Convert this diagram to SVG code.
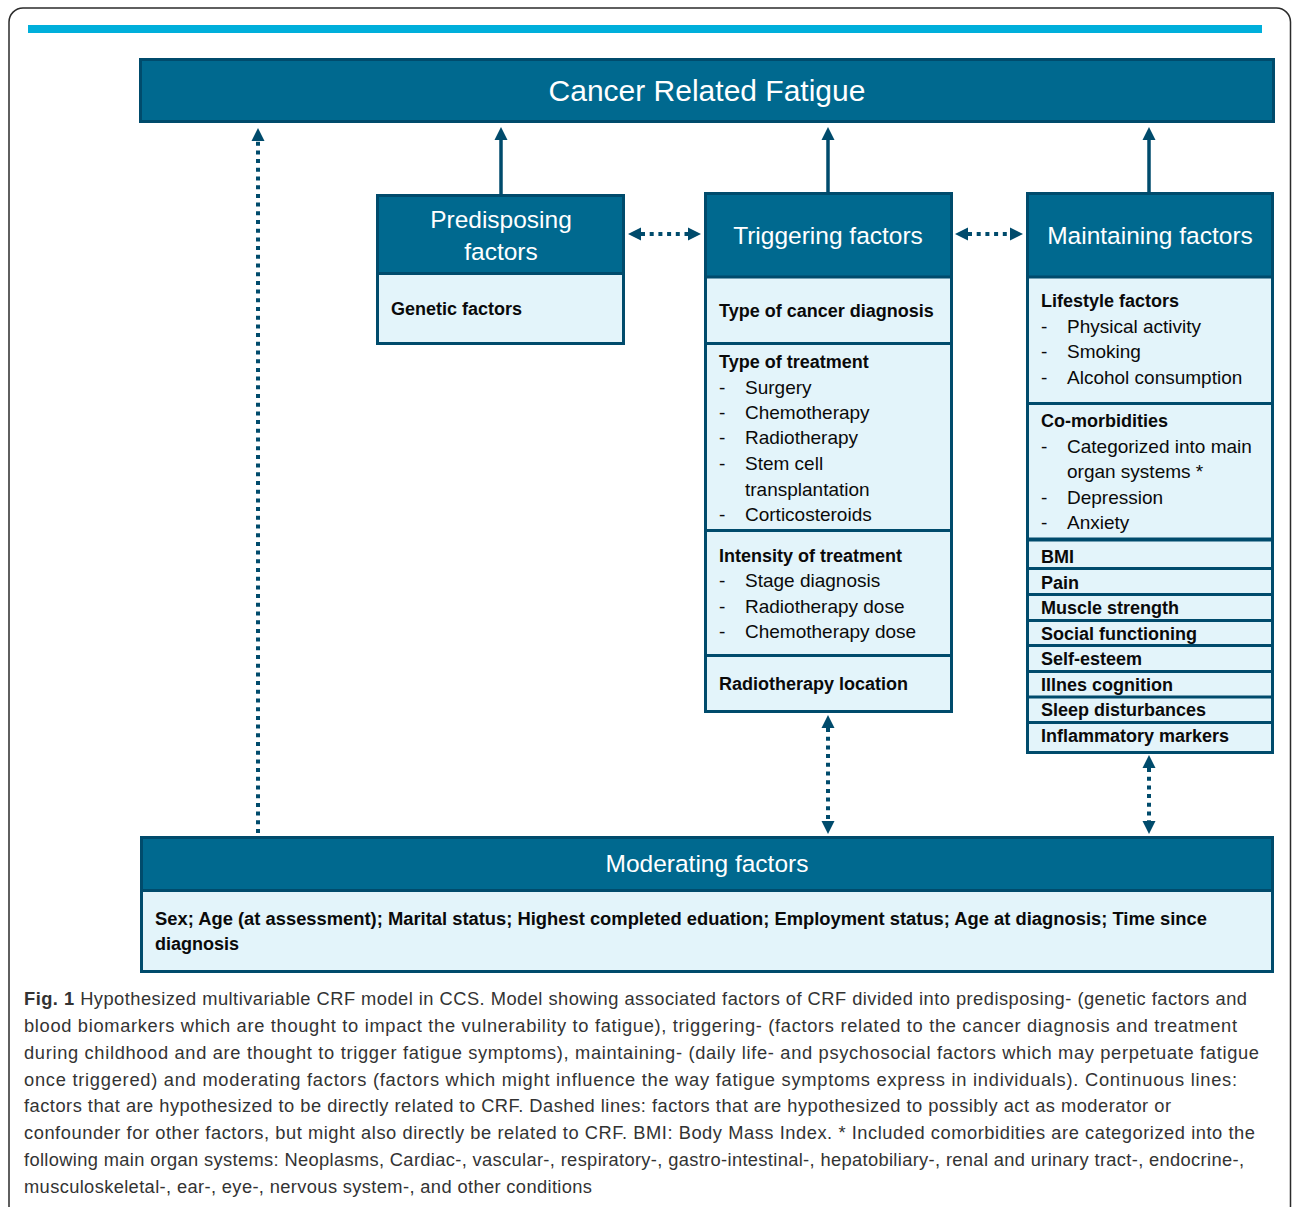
<svg xmlns="http://www.w3.org/2000/svg" width="1292" height="1207" viewBox="0 0 1292 1207">
<style>
.frame{fill:#fff;stroke:#2b2b2b;stroke-width:1.5}
.box{fill:#e3f4fa;stroke:#004b6c;stroke-width:3}
.hdr{fill:#00698f;stroke:#004b6c;stroke-width:3}
.div{stroke:#004b6c;stroke-width:3}
.ht{font-family:"Liberation Sans",Arial,sans-serif;font-size:24.5px;fill:#fff;text-anchor:middle}
.b{font-family:"Liberation Sans",Arial,sans-serif;font-size:18px;font-weight:bold;fill:#0a0a0a}
.r{font-family:"Liberation Sans",Arial,sans-serif;font-size:19px;fill:#0a0a0a}
.cap{font-family:"Liberation Sans",Arial,sans-serif;font-size:18.3px;fill:#333}
.solid{stroke:#004b6c;stroke-width:3.5;fill:none}
.dot{stroke:#004b6c;stroke-width:4;fill:none;stroke-dasharray:4 4.7}
</style>
<defs>
<marker id="ah" markerUnits="userSpaceOnUse" markerWidth="16" markerHeight="16" viewBox="0 -8 14 16" refX="0" refY="0" orient="auto-start-reverse">
<path d="M0,-6.5 L13,0 L0,6.5 z" fill="#004b6c"/>
</marker>
</defs>
<rect class="frame" x="9" y="8" width="1281.5" height="1212" rx="14"/>
<rect x="28" y="25" width="1234" height="8" fill="#00afdb"/>

<g id="crf">
<rect class="hdr" x="140.5" y="59.5" width="1133" height="62"/>
<text class="ht" x="707" y="101" style="font-size:30px">Cancer Related Fatigue</text>
</g>

<g id="predisposing">
<rect class="box" x="377.5" y="195.5" width="246" height="148"/>
<rect class="hdr" x="377.5" y="195.5" width="246" height="78"/>
<text class="ht" x="501" y="228">Predisposing</text>
<text class="ht" x="501" y="260">factors</text>
<text class="b" x="391" y="315">Genetic factors</text>
</g>

<g id="triggering">
<rect class="box" x="705.5" y="193.5" width="246" height="518"/>
<rect class="hdr" x="705.5" y="193.5" width="246" height="83.5"/>
<text class="ht" x="828" y="244">Triggering factors</text>
<line class="div" x1="705.5" y1="343.5" x2="951.5" y2="343.5"/>
<line class="div" x1="705.5" y1="530.5" x2="951.5" y2="530.5"/>
<line class="div" x1="705.5" y1="655.5" x2="951.5" y2="655.5"/>
<text class="b" x="719" y="317">Type of cancer diagnosis</text>
<text class="b" x="719" y="368">Type of treatment</text>
<text class="r" x="719" y="394">-</text><text class="r" x="745" y="394">Surgery</text>
<text class="r" x="719" y="419">-</text><text class="r" x="745" y="419">Chemotherapy</text>
<text class="r" x="719" y="444">-</text><text class="r" x="745" y="444">Radiotherapy</text>
<text class="r" x="719" y="470">-</text><text class="r" x="745" y="470">Stem cell</text>
<text class="r" x="745" y="496">transplantation</text>
<text class="r" x="719" y="521">-</text><text class="r" x="745" y="521">Corticosteroids</text>
<text class="b" x="719" y="562">Intensity of treatment</text>
<text class="r" x="719" y="587">-</text><text class="r" x="745" y="587">Stage diagnosis</text>
<text class="r" x="719" y="613">-</text><text class="r" x="745" y="613">Radiotherapy dose</text>
<text class="r" x="719" y="638">-</text><text class="r" x="745" y="638">Chemotherapy dose</text>
<text class="b" x="719" y="690">Radiotherapy location</text>
</g>

<g id="maintaining">
<rect class="box" x="1027.5" y="193.5" width="245" height="559"/>
<rect class="hdr" x="1027.5" y="193.5" width="245" height="83.5"/>
<text class="ht" x="1150" y="244">Maintaining factors</text>
<line class="div" x1="1027.5" y1="403.5" x2="1272.5" y2="403.5"/>
<line class="div" x1="1027.5" y1="539.5" x2="1272.5" y2="539.5" style="stroke-width:4"/>
<line class="div" x1="1027.5" y1="568.5" x2="1272.5" y2="568.5"/>
<line class="div" x1="1027.5" y1="594.5" x2="1272.5" y2="594.5"/>
<line class="div" x1="1027.5" y1="620.5" x2="1272.5" y2="620.5"/>
<line class="div" x1="1027.5" y1="645.5" x2="1272.5" y2="645.5"/>
<line class="div" x1="1027.5" y1="671.5" x2="1272.5" y2="671.5"/>
<line class="div" x1="1027.5" y1="697" x2="1272.5" y2="697"/>
<line class="div" x1="1027.5" y1="722.5" x2="1272.5" y2="722.5"/>
<text class="b" x="1041" y="307">Lifestyle factors</text>
<text class="r" x="1041" y="333">-</text><text class="r" x="1067" y="333">Physical activity</text>
<text class="r" x="1041" y="358">-</text><text class="r" x="1067" y="358">Smoking</text>
<text class="r" x="1041" y="384">-</text><text class="r" x="1067" y="384">Alcohol consumption</text>
<text class="b" x="1041" y="427">Co-morbidities</text>
<text class="r" x="1041" y="453">-</text><text class="r" x="1067" y="453">Categorized into main</text>
<text class="r" x="1067" y="478">organ systems *</text>
<text class="r" x="1041" y="504">-</text><text class="r" x="1067" y="504">Depression</text>
<text class="r" x="1041" y="529">-</text><text class="r" x="1067" y="529">Anxiety</text>
<text class="b" x="1041" y="563">BMI</text>
<text class="b" x="1041" y="589">Pain</text>
<text class="b" x="1041" y="614">Muscle strength</text>
<text class="b" x="1041" y="640">Social functioning</text>
<text class="b" x="1041" y="665">Self-esteem</text>
<text class="b" x="1041" y="691">Illnes cognition</text>
<text class="b" x="1041" y="716">Sleep disturbances</text>
<text class="b" x="1041" y="742">Inflammatory markers</text>
</g>

<g id="moderating">
<rect class="box" x="141.5" y="837.5" width="1131" height="134"/>
<rect class="hdr" x="141.5" y="837.5" width="1131" height="53"/>
<text class="ht" x="707" y="872">Moderating factors</text>
<text class="b" x="155" y="925" textLength="1052" lengthAdjust="spacingAndGlyphs">Sex; Age (at assessment); Marital status; Highest completed eduation; Employment status; Age at diagnosis; Time since</text>
<text class="b" x="155" y="950">diagnosis</text>
</g>

<g id="connectors">
<line class="solid" x1="501" y1="194" x2="501" y2="140" marker-end="url(#ah)"/>
<line class="solid" x1="828" y1="192" x2="828" y2="140" marker-end="url(#ah)"/>
<line class="solid" x1="1149" y1="192" x2="1149" y2="140" marker-end="url(#ah)"/>
<line class="dot" x1="258" y1="833" x2="258" y2="141" marker-end="url(#ah)"/>
<line class="dot" x1="641" y1="234" x2="688" y2="234" marker-start="url(#ah)" marker-end="url(#ah)"/>
<line class="dot" x1="968" y1="234" x2="1010" y2="234" marker-start="url(#ah)" marker-end="url(#ah)"/>
<line class="dot" x1="828" y1="728" x2="828" y2="821" marker-start="url(#ah)" marker-end="url(#ah)"/>
<line class="dot" x1="1149" y1="768" x2="1149" y2="821" marker-start="url(#ah)" marker-end="url(#ah)"/>
</g>

<g id="caption">
<text class="cap" x="24" y="1005" textLength="1223" lengthAdjust="spacing"><tspan font-weight="bold">Fig. 1</tspan> Hypothesized multivariable CRF model in CCS. Model showing associated factors of CRF divided into predisposing- (genetic factors and</text>
<text class="cap" x="24" y="1032" textLength="1213" lengthAdjust="spacing">blood biomarkers which are thought to impact the vulnerability to fatigue), triggering- (factors related to the cancer diagnosis and treatment</text>
<text class="cap" x="24" y="1059" textLength="1235" lengthAdjust="spacing">during childhood and are thought to trigger fatigue symptoms), maintaining- (daily life- and psychosocial factors which may perpetuate fatigue</text>
<text class="cap" x="24" y="1086" textLength="1213" lengthAdjust="spacing">once triggered) and moderating factors (factors which might influence the way fatigue symptoms express in individuals). Continuous lines:</text>
<text class="cap" x="24" y="1112" textLength="1147" lengthAdjust="spacing">factors that are hypothesized to be directly related to CRF. Dashed lines: factors that are hypothesized to possibly act as moderator or</text>
<text class="cap" x="24" y="1139" textLength="1231" lengthAdjust="spacing">confounder for other factors, but might also directly be related to CRF. BMI: Body Mass Index. * Included comorbidities are categorized into the</text>
<text class="cap" x="24" y="1166" textLength="1220" lengthAdjust="spacing">following main organ systems: Neoplasms, Cardiac-, vascular-, respiratory-, gastro-intestinal-, hepatobiliary-, renal and urinary tract-, endocrine-,</text>
<text class="cap" x="24" y="1193" textLength="568" lengthAdjust="spacing">musculoskeletal-, ear-, eye-, nervous system-, and other conditions</text>
</g>
</svg>
